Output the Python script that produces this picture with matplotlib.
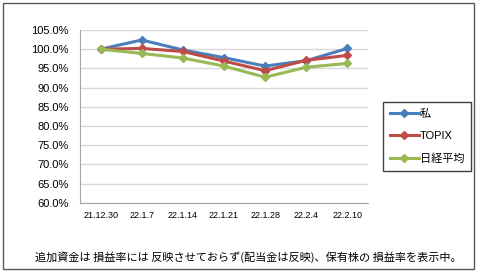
import matplotlib
matplotlib.use("Agg")
import matplotlib.pyplot as plt
from matplotlib.patches import Rectangle
from matplotlib.ticker import FuncFormatter

plt.rcParams['font.family'] = ['Liberation Sans', 'Noto Sans CJK JP', 'DejaVu Sans']

# data
dates = ["21.12.30", "22.1.7", "22.1.14", "22.1.21", "22.1.28", "22.2.4", "22.2.10"]
mine = [100.0, 102.4, 99.8, 97.8, 95.6, 97.0, 100.2]
topix = [100.0, 100.2, 99.4, 96.9, 94.4, 97.1, 98.4]
nikkei = [100.0, 98.9, 97.7, 95.6, 92.7, 95.3, 96.3]
series_names = ["私", "TOPIX", "日経平均"]
colors = ["#4A7EBB", "#BE4B48", "#98B954"]
note = "追加資金は 損益率には 反映させておらず(配当金は反映)、保有株の 損益率を表示中。"

fig = plt.figure(figsize=(4.8, 2.72), dpi=100)

# outer chart border
fig.patches.append(Rectangle((3 / 480, 1 - 269 / 272), 471 / 480, 266 / 272,
                             transform=fig.transFigure, fill=False,
                             edgecolor="#595959", linewidth=1.0))

ax = fig.add_axes([80 / 480, 1 - 202.7 / 272, 288 / 480, 172.7 / 272])

x = list(range(len(dates)))
for vals, name, c in zip([mine, topix, nikkei], series_names, colors):
    ax.plot(x, vals, color=c, lw=2.2, marker="D", markersize=4.5,
            markeredgecolor=c, label=name)

ax.set_xlim(-0.5, len(dates) - 0.5)
ax.set_ylim(60, 105)
ax.set_yticks(range(60, 106, 5))
ax.yaxis.set_major_formatter(FuncFormatter(lambda v, p: "%.1f%%" % v))
ax.set_xticks(x)
ax.set_xticklabels(dates)

ax.grid(axis="y", color="#D9D9D9", lw=1.0)
ax.set_axisbelow(True)
for s in ["top", "right"]:
    ax.spines[s].set_visible(False)
ax.spines["left"].set_color("#A6A6A6")
ax.spines["bottom"].set_color("#A6A6A6")
ax.tick_params(axis="y", length=0, pad=8, labelsize=8)
ax.tick_params(axis="x", length=0, pad=6, labelsize=6.5)

fig.legend(loc="upper left", bbox_to_anchor=(383 / 480, 1 - 102 / 272),
           fontsize=8, handlelength=2.6, labelspacing=1.1,
           fancybox=False, edgecolor="#404040", framealpha=1,
           borderpad=0.6, handletextpad=0.1, borderaxespad=0)

fig.text(35 / 480, 1 - 257 / 272, note, fontsize=8, va="center", ha="left",
         family=["Noto Sans CJK JP", "DejaVu Sans"])

fig.savefig("out.png", dpi=100)
